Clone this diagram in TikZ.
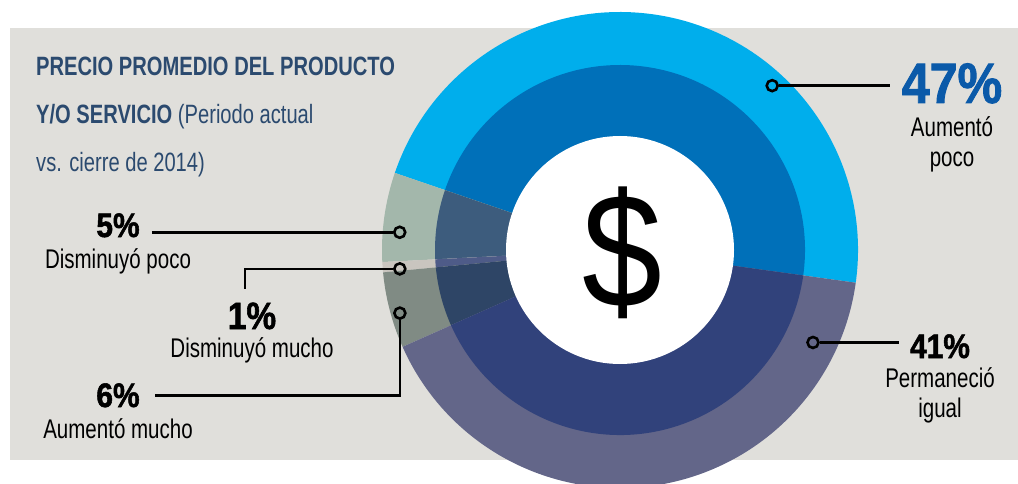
\documentclass[tikz,border=0pt]{standalone}
\usepackage{fontspec}
\setmainfont{Liberation Sans}[FakeStretch=0.76]
\newfontfamily\pctfont{Liberation Sans}[FakeStretch=0.88, BoldFeatures={FakeBold=1.5}]
\usetikzlibrary{positioning}

\definecolor{bggray}{HTML}{E0DFDB}
\definecolor{titleblue}{HTML}{2B4A6F}
\definecolor{pctblue}{HTML}{0B5AA9}
\definecolor{skyout}{HTML}{00AEEC}
\definecolor{skyin}{HTML}{0070B9}
\definecolor{sageout}{HTML}{A3B7AB}
\definecolor{sagein}{HTML}{3D5C7D}
\definecolor{sandout}{HTML}{C9C5BF}
\definecolor{sandin}{HTML}{4E5B88}
\definecolor{mossout}{HTML}{808B84}
\definecolor{mossin}{HTML}{2E4566}
\definecolor{slateout}{HTML}{636689}
\definecolor{slatein}{HTML}{31427B}

\begin{document}
\begin{tikzpicture}[x=1pt, y=1pt,
	pct/.style={inner sep=0pt, font=\pctfont\bfseries\fontsize{#1}{#1}\selectfont},
	pct/.default=34,
	lbl/.style={inner sep=0pt, align=center, font=\fontsize{27}{30}\selectfont},
	dot/.style={circle, draw, line width=2.6pt, minimum size=11pt, inner sep=0pt},
	lead/.style={line width=2.6pt}]
	\useasboundingbox (0,0) rectangle (1018,483);
	\clip (0,0) rectangle (1018,483);
	\fill[bggray] (10,23) rectangle (1018,455); % grauer Hintergrund
	
	% Ring
	\coordinate (o) at (620,233);
	\foreach \a/\b/\co/\ci in {-7.9/161.1/skyout/skyin, 161.1/182.9/sageout/sagein,
		182.9/185.4/sandout/sandin, 185.4/204/mossout/mossin, 204/352.1/slateout/slatein}
	{
		\fill[\co] (o) -- ++(\a:238) arc[start angle=\a, end angle=\b, radius=238] -- cycle;
		\fill[\ci] (o) -- ++(\a:185) arc[start angle=\a, end angle=\b, radius=185] -- cycle;
	}
	\fill[white] (o) circle[radius=114];
	\node[inner sep=0pt, font=\pctfont\fontsize{163}{163}\selectfont] (usd) at (622,230) {\$};
	
	% Titel
	\node[inner sep=0pt, anchor=north west, align=left, text=titleblue,
		font=\fontsize{26.5}{48}\selectfont] (title) at (36,426)
		{\textbf{PRECIO PROMEDIO DEL PRODUCTO}\\\textbf{Y/O SERVICIO} (Periodo actual\\vs. cierre de 2014)};
	
	% Werte
	\node[pct=57, text=pctblue, anchor=base] (p47) at (952,380) {47\%};
	\node[lbl, below=13pt of p47] (t47) {Aumentó\\poco};
	\node[pct, anchor=base] (p41) at (940,125) {41\%};
	\node[lbl, below=9pt of p41] (t41) {Permaneció\\igual};
	\node[pct, anchor=base] (p5) at (118,246) {5\%};
	\node[lbl, below=11pt of p5] (t5) {Disminuyó poco};
	\node[pct=38, anchor=base] (p1) at (252,154) {1\%};
	\node[lbl, below=8pt of p1] (t1) {Disminuyó mucho};
	\node[pct, anchor=base] (p6) at (118,76) {6\%};
	\node[lbl, below=11pt of p6] (t6) {Aumentó mucho};
	
	% Punkte und Linien
	\node[dot] (d47) at ([shift={(47.2:224)}]o) {};
	\node[dot] (d41) at ([shift={(-25.6:214)}]o) {};
	\node[dot] (d5) at ([shift={(175.4:221)}]o) {};
	\node[dot] (d1) at ([shift={(184.9:221)}]o) {};
	\node[dot] (d6) at ([shift={(196:229)}]o) {};
	\coordinate (c1) at (245,194);
	
	\draw[lead, shorten >=12pt] (d47) -- (d47 -| p47.west);
	\draw[lead, shorten >=11pt] (d41) -- (d41 -| p41.west);
	\draw[lead, shorten <=12pt] (d5 -| p5.east) -- (d5);
	\draw[lead] (d1) -| (c1);
	\draw[lead, shorten >=15pt] (d6) |- (p6.east);
\end{tikzpicture}
\end{document}
